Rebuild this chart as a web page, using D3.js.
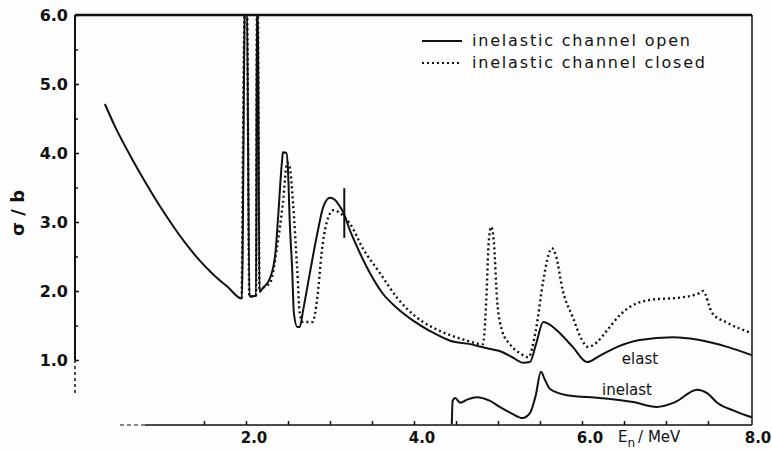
<!DOCTYPE html>
<html>
<head>
<meta charset="utf-8">
<script src="https://cdn.jsdelivr.net/npm/d3@7"></script>
<style>
    body { margin: 0; background: #fdfdfd; }
    svg { display: block; }
    text { fill: #111; font-family: "DejaVu Sans", sans-serif; }
</style>
</head>
<body>
<svg id="chart" width="772" height="451"></svg>
<script>
// Energy (MeV) / cross section (b)
var elastOpenE = [0.32, 0.45, 0.65, 0.80, 0.98, 1.15, 1.30, 1.45, 1.61, 1.78, 1.95, 1.99, 2.01, 2.04, 2.12, 2.13, 2.14, 2.16, 2.20, 2.29, 2.35, 2.38, 2.43, 2.44, 2.48, 2.50, 2.52, 2.55, 2.57, 2.61, 2.64, 2.68, 2.76, 2.85, 2.92, 3.00, 3.06, 3.12, 3.15, 3.24, 3.36, 3.48, 3.63, 3.80, 3.99, 4.19, 4.43, 4.67, 4.87, 5.02, 5.17, 5.30, 5.38, 5.45, 5.54, 5.62, 5.70, 5.89, 6.06, 6.21, 6.42, 6.69, 7.08, 7.40, 7.73, 8.02];
var elastOpenS = [4.71, 4.36, 3.90, 3.58, 3.22, 2.91, 2.66, 2.44, 2.24, 2.06, 1.89, 6.30, 6.30, 1.92, 1.93, 6.30, 6.30, 1.99, 2.04, 2.20, 2.55, 3.03, 3.90, 4.01, 4.00, 3.75, 3.03, 2.30, 1.68, 1.48, 1.48, 1.72, 2.26, 2.84, 3.22, 3.35, 3.32, 3.22, 3.16, 2.87, 2.54, 2.25, 1.96, 1.75, 1.57, 1.42, 1.28, 1.23, 1.17, 1.13, 1.04, 0.96, 0.97, 1.22, 1.55, 1.51, 1.43, 1.19, 0.97, 1.06, 1.19, 1.29, 1.33, 1.29, 1.19, 1.07];

var elastClosedE = [1.95, 1.99, 2.01, 2.04, 2.12, 2.13, 2.14, 2.16, 2.20, 2.29, 2.37, 2.44, 2.49, 2.52, 2.56, 2.61, 2.64, 2.68, 2.79, 2.85, 2.90, 2.96, 3.04, 3.12, 3.20, 3.24, 3.39, 3.60, 3.80, 4.04, 4.31, 4.58, 4.82, 4.86, 4.89, 4.92, 4.95, 4.99, 5.05, 5.14, 5.26, 5.36, 5.45, 5.54, 5.60, 5.64, 5.69, 5.77, 5.89, 6.00, 6.07, 6.18, 6.30, 6.45, 6.57, 6.81, 7.20, 7.40, 7.44, 7.55, 7.73, 8.02];
var elastClosedS = [1.89, 6.30, 6.30, 1.92, 1.93, 6.30, 6.30, 1.99, 2.04, 2.13, 2.64, 3.28, 3.86, 3.80, 3.28, 2.30, 1.68, 1.55, 1.55, 1.91, 2.55, 2.99, 3.17, 3.13, 3.03, 2.97, 2.62, 2.25, 1.90, 1.61, 1.42, 1.30, 1.23, 1.86, 2.72, 2.93, 2.72, 1.86, 1.42, 1.23, 1.10, 1.04, 1.43, 2.16, 2.52, 2.62, 2.51, 2.01, 1.62, 1.29, 1.19, 1.26, 1.43, 1.65, 1.77, 1.87, 1.91, 1.97, 2.00, 1.68, 1.54, 1.39];

var inelastE = [4.45, 4.46, 4.49, 4.55, 4.64, 4.75, 4.90, 5.02, 5.17, 5.29, 5.38, 5.45, 5.51, 5.56, 5.62, 5.82, 6.21, 6.61, 6.89, 7.11, 7.37, 7.49, 7.61, 7.82, 8.02];
var inelastS = [0.07, 0.41, 0.45, 0.38, 0.43, 0.46, 0.41, 0.32, 0.22, 0.16, 0.23, 0.49, 0.83, 0.71, 0.58, 0.49, 0.45, 0.39, 0.32, 0.39, 0.57, 0.52, 0.38, 0.26, 0.17];

// single error bar near 3.2 MeV
var errE = [3.17];
var errLo = [2.77];
var errHi = [3.49];

var yTicks = [1, 2, 3, 4, 5, 6];
var yMinor = [1.5, 2.5, 3.5, 4.5, 5.5];
var xTicks = [1.5, 2, 2.5, 3, 3.5, 4, 4.5, 5, 5.5, 6, 6.5, 7, 7.5];
var xLabels = [2, 4, 6, 8];

var svg = d3.select('#chart');
var padL = 75, padR = 752, padT = 15, padB = 429;

var x = d3.scaleLinear().domain([0, 8]).range([78, 750]);
var y = d3.scaleLinear().domain([0, 6]).range([padB, padT]);

function zip(es, ss) {
    return es.map(function (e, i) { return { e: e, s: ss[i] }; });
}

svg.append('clipPath').attr('id', 'plot')
    .append('rect')
    .attr('x', padL).attr('y', padT)
    .attr('width', padR - padL).attr('height', padB - padT);

// Frame
svg.append('line').attr('x1', padL).attr('x2', padR).attr('y1', padT).attr('y2', padT)
    .attr('stroke', '#111').attr('stroke-width', 2.5);
svg.append('line').attr('x1', padR).attr('x2', padR).attr('y1', padT).attr('y2', 425)
    .attr('stroke', '#111').attr('stroke-width', 1.5);
svg.append('line').attr('x1', padL).attr('x2', padL).attr('y1', padT).attr('y2', y(1))
    .attr('stroke', '#111').attr('stroke-width', 2);
svg.append('line').attr('x1', padL).attr('x2', padL).attr('y1', y(1)).attr('y2', y(0.5))
    .attr('stroke', '#111').attr('stroke-width', 1.5).attr('stroke-dasharray', '3 3');
svg.append('line').attr('x1', 120).attr('x2', 145).attr('y1', 425).attr('y2', 425)
    .attr('stroke', '#111').attr('stroke-width', 1.2).attr('stroke-dasharray', '4 3');
svg.append('line').attr('x1', 145).attr('x2', padR).attr('y1', 425).attr('y2', 425)
    .attr('stroke', '#111').attr('stroke-width', 1.5);

// Y axis
var yAxis = svg.append('g')
    .attr('transform', 'translate(' + padL + ',0)')
    .call(d3.axisLeft(y).tickValues(yTicks).tickFormat(d3.format('.1f'))
        .tickSize(-4).tickPadding(7));
yAxis.select('.domain').remove();
yAxis.selectAll('line').attr('stroke', '#111').attr('stroke-width', 1.5);
yAxis.selectAll('text').attr('font-size', 16).attr('font-weight', 'bold').attr('fill', '#111');

var yMinorAxis = svg.append('g')
    .attr('transform', 'translate(' + padL + ',0)')
    .call(d3.axisLeft(y).tickValues(yMinor).tickFormat('').tickSize(-3));
yMinorAxis.select('.domain').remove();
yMinorAxis.selectAll('line').attr('stroke', '#111').attr('stroke-width', 1.5);

// X axis
var xAxis = svg.append('g')
    .attr('transform', 'translate(0,425)')
    .call(d3.axisBottom(x).tickValues(xTicks).tickFormat('').tickSize(-4));
xAxis.select('.domain').remove();
xAxis.selectAll('line').attr('stroke', '#111').attr('stroke-width', 1.5);

svg.append('g').selectAll('text')
    .data(xLabels)
    .join('text')
    .attr('x', function (d) { return x(d) + 8; })
    .attr('y', 443)
    .attr('text-anchor', 'middle')
    .attr('font-size', 15)
    .attr('font-weight', 'bold')
    .text(d3.format('.1f'));

// Axis titles
var xt = svg.append('text').attr('x', 618).attr('y', 442).attr('font-size', 15);
xt.append('tspan').text('E');
xt.append('tspan').attr('font-size', 12).attr('dy', 5).text('n');
xt.append('tspan').attr('dy', -5).attr('dx', 3).text('/ MeV');

svg.append('text')
    .attr('transform', 'translate(24,213) rotate(-90)')
    .attr('text-anchor', 'middle')
    .attr('font-size', 18)
    .attr('font-weight', 'bold')
    .text('σ / b');

// Curves
var line = d3.line()
    .x(function (d) { return x(d.e); })
    .y(function (d) { return y(d.s); })
    .curve(d3.curveMonotoneX);

var plot = svg.append('g').attr('clip-path', 'url(#plot)');

plot.append('path')
    .attr('d', line(zip(elastOpenE, elastOpenS)))
    .attr('fill', 'none').attr('stroke', '#111').attr('stroke-width', 2);

plot.append('path')
    .attr('d', line(zip(elastClosedE, elastClosedS)))
    .attr('fill', 'none').attr('stroke', '#111').attr('stroke-width', 2.4)
    .attr('stroke-dasharray', '2 3');

plot.append('path')
    .attr('d', line(zip(inelastE, inelastS)))
    .attr('fill', 'none').attr('stroke', '#111').attr('stroke-width', 2);

plot.selectAll('.err')
    .data(errE)
    .join('line')
    .attr('class', 'err')
    .attr('x1', function (d) { return x(d); })
    .attr('x2', function (d) { return x(d); })
    .attr('y1', function (d, i) { return y(errLo[i]); })
    .attr('y2', function (d, i) { return y(errHi[i]); })
    .attr('stroke', '#111').attr('stroke-width', 2);

// Curve labels
svg.append('text').attr('x', 640).attr('y', 364).attr('text-anchor', 'middle')
    .attr('font-size', 15).text('elast');
svg.append('text').attr('x', 627).attr('y', 395).attr('text-anchor', 'middle')
    .attr('font-size', 15).text('inelast');

// Legend
var legend = [
    { label: 'inelastic  channel  open', dash: null, y: 41, len: 218 },
    { label: 'inelastic  channel  closed', dash: '2 3', y: 63, len: 233 }
];
var lg = svg.append('g').selectAll('g').data(legend).join('g');
lg.append('line')
    .attr('x1', 422).attr('x2', 462)
    .attr('y1', function (d) { return d.y; }).attr('y2', function (d) { return d.y; })
    .attr('stroke', '#111').attr('stroke-width', 2.2)
    .attr('stroke-dasharray', function (d) { return d.dash; });
lg.append('text')
    .attr('x', 472)
    .attr('y', function (d) { return d.y + 5; })
    .attr('font-size', 16)
    .attr('textLength', function (d) { return d.len; })
    .attr('lengthAdjust', 'spacing')
    .text(function (d) { return d.label; });
</script>
</body>
</html>
